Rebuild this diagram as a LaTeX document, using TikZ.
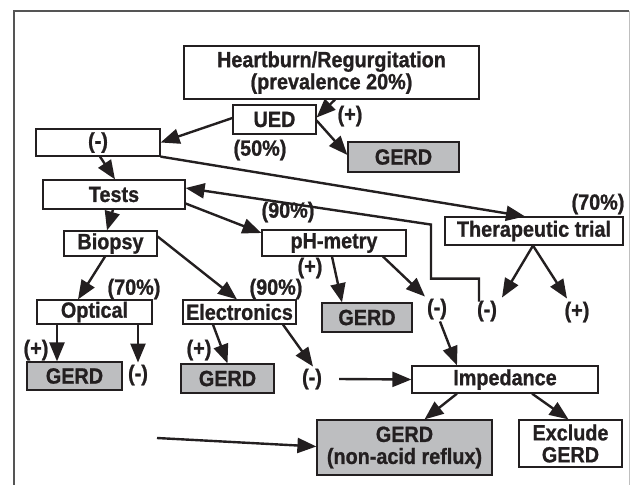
\documentclass[tikz,border=0pt]{standalone}
\usepackage{fontspec}
\setmainfont{Liberation Sans}[BoldFeatures={FakeStretch=0.9,FakeBold=1}]
\usetikzlibrary{arrows.meta}
\definecolor{ink}{HTML}{231F20}
\definecolor{boxgray}{HTML}{BDBEC0}
\definecolor{framegray}{HTML}{555555}
\tikzset{
  every node/.style={font=\fontsize{22}{22}\selectfont\bfseries, text=ink},
  box/.style={draw=ink, line width=1.2pt, inner sep=0pt, align=center},
  gbox/.style={box, fill=boxgray},
  lbl/.style={inner sep=0pt},
  arr/.style={draw=ink, line width=2.4pt, -{Triangle[length=19pt,width=15pt]}},
}
\begin{document}
\begin{tikzpicture}[x=1pt,y=-1pt]
\useasboundingbox (0,0) rectangle (630,485);
% frame
\draw[framegray, line width=1.3pt] (14,485) -- (14,11) -- (629,11);
\draw[gray!50, line width=0.8pt] (629,11) -- (629,485);
% boxes
\node[box, minimum width=295pt, minimum height=53pt] (hb) at (331.5,72.5) {Heartburn/Regurgitation\\(prevalence 20\%)};
\node[box, minimum width=83pt, minimum height=29pt] (ued) at (274.5,119.5) {UED};
\node[box, minimum width=124pt, minimum height=27pt] (neg1) at (98,142.5) {(-)};
\node[gbox, minimum width=111pt, minimum height=30pt] (gerd1) at (403.5,157) {GERD};
\node[box, minimum width=142pt, minimum height=29pt] (tests) at (114,194.5) {Tests};
\node[box, minimum width=178pt, minimum height=28pt] (ther) at (534,231) {Therapeutic trial};
\node[box, minimum width=144pt, minimum height=26pt] (ph) at (334,243) {pH-metry};
\node[box, minimum width=93pt, minimum height=25pt] (biopsy) at (110.5,243.5) {Biopsy};
\node[box, minimum width=115pt, minimum height=24pt] (optical) at (94.5,312) {Optical};
\node[box, minimum width=113pt, minimum height=24pt] (elec) at (239.5,312) {Electronics};
\node[gbox, minimum width=95pt, minimum height=28pt] (gerd2) at (74.5,376) {GERD};
\node[gbox, minimum width=93pt, minimum height=29pt] (gerd3) at (227.5,378.5) {GERD};
\node[gbox, minimum width=90pt, minimum height=29pt] (gerd4) at (367,317.5) {GERD};
\node[box, minimum width=186pt, minimum height=27pt] (imp) at (505,379.5) {Impedance};
\node[gbox, minimum width=175pt, minimum height=55pt] (gerdna) at (404.5,447.5) {GERD\\(non-acid reflux)};
\node[box, minimum width=103pt, minimum height=47pt] (excl) at (570.5,443.5) {Exclude\\GERD};
% labels
\node[lbl] (p50) at (260,150) {(50\%)};
\node[lbl] (plus1) at (350,116) {(+)};
\node[lbl] (p90a) at (288,212) {(90\%)};
\node[lbl] (p70a) at (598,204) {(70\%)};
\node[lbl] (p70b) at (134,289) {(70\%)};
\node[lbl] (p90b) at (276,289) {(90\%)};
\node[lbl] (plusph) at (310,268) {(+)};
\node[lbl] (plusopt) at (36,350) {(+)};
\node[lbl] (negopt) at (138,375) {(-)};
\node[lbl] (pluselec) at (199,350) {(+)};
\node[lbl] (negelec) at (312,379) {(-)};
\node[lbl] (negph) at (437,309) {(-)};
\node[lbl] (negther) at (487,311) {(-)};
\node[lbl] (plusther) at (577,312) {(+)};
\coordinate (free) at (157,438);
% arrows
\draw[arr] ([xshift=3.5pt]hb.south) -- ([yshift=2pt]ued.east);
\draw[arr] ([yshift=1.5pt]ued.west) -- (neg1.east);
\draw[arr] ([yshift=-1pt]ued.east) -- ([yshift=2pt]gerd1.west);
\draw[arr] ([xshift=2pt]neg1.south) -- ([xshift=1pt]tests.north);
\draw[arr] (neg1.south east) -- ([xshift=-9pt]ther.north);
\draw[arr] ([xshift=-8pt,yshift=-1pt]negther.north) -- ++(0,-23) -- ++(-48,0) -- ++(0,-54) -- ([yshift=6.5pt]tests.east);
\draw[arr] ([xshift=-1pt]tests.south) -- ([xshift=-3.5pt]biopsy.north);
\draw[arr] ([yshift=-9pt]tests.east) -- ([yshift=10pt]ph.west);
\draw[arr] ([xshift=-5.5pt]biopsy.south) -- ([xshift=-16.5pt]optical.north);
\draw[arr] ([yshift=7pt]biopsy.east) -- ([xshift=-2.5pt]elec.north);
\draw[arr] ([xshift=-37.5pt]optical.south) coordinate (s1) -- (s1 |- gerd2.north);
\draw[arr] ([xshift=43.5pt]optical.south) coordinate (s2) -- ([yshift=2pt]s2 |- negopt.north);
\draw[arr] ([xshift=-26.5pt]elec.south) -- (gerd3.north);
\draw[arr] ([xshift=43.5pt]elec.south) -- ([xshift=1pt,yshift=2pt]negelec.north);
\draw[arr] ([xshift=-2pt]ph.south) -- ([xshift=-25pt]gerd4.north);
\draw[arr] ([xshift=49pt]ph.south) -- ([xshift=-12pt,yshift=2pt]negph.north);
\draw[arr] ([xshift=3pt,yshift=-2pt]negph.south) -- ([xshift=-48pt]imp.north);
\draw[arr] ([xshift=17pt]negelec.east) -- (imp.west);
\draw[arr] (free) -- ([yshift=1pt]gerdna.west);
\draw[arr] ([xshift=-48pt]imp.south) -- ([xshift=20pt]gerdna.north);
\draw[arr] ([xshift=27pt]imp.south) -- ([xshift=-2pt]excl.north);
\draw[arr] ([xshift=-1pt]ther.south) -- ([xshift=15pt,yshift=3pt]negther.north);
\draw[arr] ([xshift=-1pt]ther.south) -- ([xshift=-10pt,yshift=3pt]plusther.north);
\end{tikzpicture}
\end{document}
